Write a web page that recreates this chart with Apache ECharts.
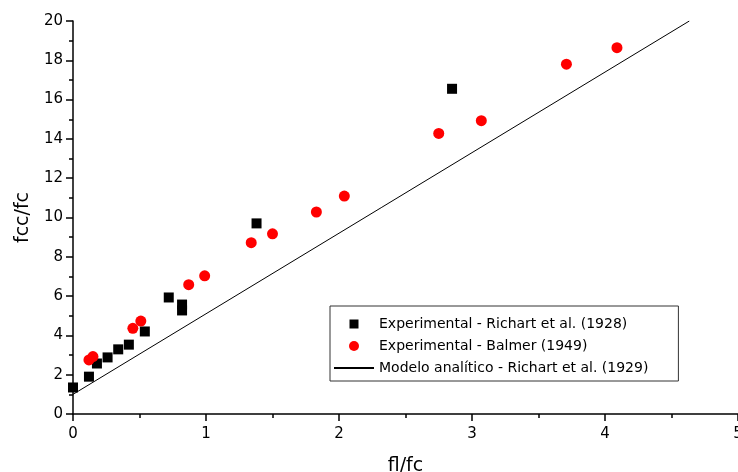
<!DOCTYPE html>
<html>
<head>
<meta charset="utf-8">
<script src="https://cdn.jsdelivr.net/npm/echarts@6/dist/echarts.min.js"></script>
<style>
  html, body { margin: 0; padding: 0; background: #fff; }
  #chart { width: 738px; height: 472px; }
</style>
</head>
<body>
<div id="chart"></div>
<script>
// Experimental - Richart et al. (1928)
const richartX = [0, 0.12, 0.18, 0.26, 0.34, 0.42, 0.54, 0.72, 0.82, 0.82, 1.38, 2.85];
const richartY = [1.35, 1.9, 2.57, 2.88, 3.29, 3.53, 4.2, 5.93, 5.57, 5.27, 9.7, 16.55];

// Experimental - Balmer (1949)
const balmerX = [0.12, 0.15, 0.45, 0.51, 0.87, 0.99, 1.34, 1.5, 1.83, 2.04, 2.75, 3.07, 3.71, 4.09];
const balmerY = [2.75, 2.92, 4.36, 4.73, 6.58, 7.03, 8.72, 9.17, 10.28, 11.09, 14.28, 14.93, 17.8, 18.64];

// Modelo analitico - Richart et al. (1929): fcc/fc = 1 + 4.1 fl/fc
const modelX = [0, 4.634];
const modelY = [1, 20];

const seriesNames = [
  "Experimental - Richart et al. (1928)",
  "Experimental - Balmer (1949)",
  "Modelo analítico - Richart et al. (1929)",
];

const pairs = (xs, ys) => xs.map((x, i) => [x, ys[i]]);
const font = "'DejaVu Sans', Arial, sans-serif";
const axisStroke = { color: "#000", width: 1.5 };
// small square centred in a 40x10 box so the legend doesn't stretch it
const squareIcon = "path://M0,0L0,0M15.5,0.5L24.5,0.5L24.5,9.5L15.5,9.5ZM40,10L40,10";

const chart = echarts.init(document.getElementById("chart"), null, { renderer: "canvas" });
chart.setOption({
  animation: false,
  textStyle: { fontFamily: font, color: "#000" },
  grid: { left: 73, right: 0, top: 21, bottom: 58, containLabel: false, outerBoundsMode: "none" },
  legend: {
    orient: "vertical",
    left: 330,
    top: 306,
    data: [
      { name: seriesNames[0], icon: squareIcon },
      { name: seriesNames[1], icon: "circle" },
      { name: seriesNames[2], itemStyle: { opacity: 0 } },
    ],
    itemWidth: 40,
    itemHeight: 10,
    itemGap: 8,
    itemTextGap: 6,
    padding: [11, 30, 6, 3],
    borderColor: "#333",
    borderWidth: 1,
    textStyle: { fontFamily: font, fontSize: 14, color: "#000" },
  },
  xAxis: {
    type: "value",
    min: 0,
    max: 5,
    interval: 1,
    name: "fl/fc",
    nameLocation: "middle",
    nameGap: 43,
    nameTextStyle: { fontFamily: font, fontSize: 19, color: "#000" },
    axisLine: { show: true, lineStyle: axisStroke },
    axisTick: { show: true, length: 7, lineStyle: axisStroke },
    minorTick: { show: true, splitNumber: 2, length: 4, lineStyle: axisStroke },
    axisLabel: { margin: 13, fontSize: 15, color: "#000", fontFamily: font },
    splitLine: { show: false },
  },
  yAxis: {
    type: "value",
    min: 0,
    max: 20,
    interval: 2,
    name: "fcc/fc",
    nameLocation: "middle",
    nameGap: 38,
    nameTextStyle: { fontFamily: font, fontSize: 19, color: "#000" },
    axisLine: { show: true, lineStyle: axisStroke },
    axisTick: { show: true, length: 7, lineStyle: axisStroke },
    minorTick: { show: true, splitNumber: 2, length: 4, lineStyle: axisStroke },
    axisLabel: { margin: 10, fontSize: 15, color: "#000", fontFamily: font },
    splitLine: { show: false },
  },
  series: [
    {
      name: seriesNames[0],
      type: "scatter",
      symbol: "rect",
      symbolSize: 10,
      itemStyle: { color: "#000", opacity: 1 },
      data: pairs(richartX, richartY),
      z: 3,
    },
    {
      name: seriesNames[1],
      type: "scatter",
      symbol: "circle",
      symbolSize: 11,
      itemStyle: { color: "#ff0000", opacity: 1 },
      data: pairs(balmerX, balmerY),
      z: 4,
    },
    {
      name: seriesNames[2],
      type: "line",
      symbol: "none",
      lineStyle: { color: "#000", width: 1 },
      itemStyle: { color: "#000" },
      data: pairs(modelX, modelY),
      z: 2,
    },
  ],
});
</script>
</body>
</html>
